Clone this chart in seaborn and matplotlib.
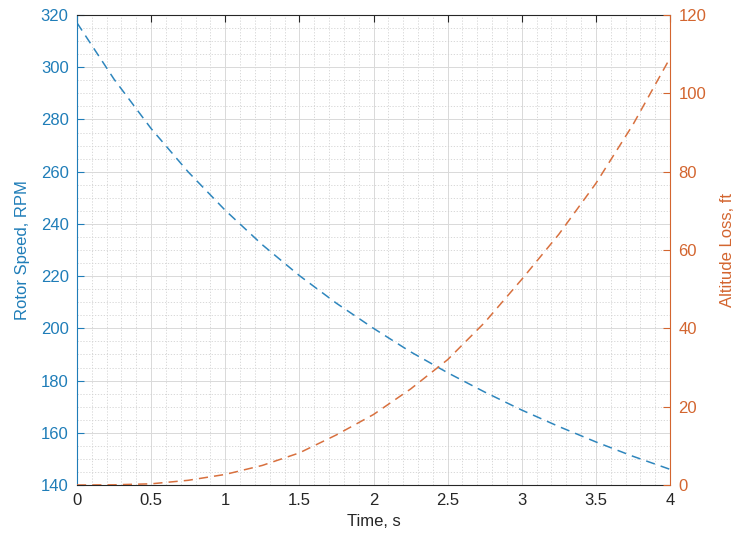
import numpy as np
import pandas as pd
import matplotlib
matplotlib.use("Agg")
import matplotlib.pyplot as plt
import seaborn as sns
from matplotlib.ticker import MultipleLocator

# Data
time_s = [0, 0.25, 0.5, 0.75, 1, 1.25, 1.5, 1.75, 2, 2.25, 2.5, 2.75, 3, 3.25, 3.5, 3.75, 4]
rotor_rpm = [317, 295.4, 276.5, 259.9, 245.2, 232.0, 220.2, 209.6, 200.0, 191.0,
             183.0, 175.6, 168.7, 162.4, 156.5, 151.0, 146.0]
alt_loss_ft = [0, 0.05, 0.3, 1.2, 2.7, 5.0, 8.2, 12.8, 18.0, 24.5,
               32.0, 41.5, 52.5, 64.0, 77.0, 92.0, 109.0]

x_ticks = [0, 0.5, 1, 1.5, 2, 2.5, 3, 3.5, 4]
x_tick_labels = ["0", "0.5", "1", "1.5", "2", "2.5", "3", "3.5", "4"]
left_ticks = [140, 160, 180, 200, 220, 240, 260, 280, 300, 320]
right_ticks = [0, 20, 40, 60, 80, 100, 120]

BLUE = "#1f7db8"
ORANGE = "#d3652f"
LINE_BLUE = "#2e86bd"
LINE_ORANGE = "#d8703e"
DARK = "#262626"

sns.set_theme(style="white")
plt.rcParams["font.family"] = ["Liberation Sans", "DejaVu Sans"]

df = pd.DataFrame({"t": time_s, "rpm": rotor_rpm, "alt": alt_loss_ft})

fig = plt.figure(figsize=(7.41, 5.44), dpi=100)
ax = fig.add_axes([77 / 741, 1 - 485 / 544, (670 - 77) / 741, (485 - 15) / 544])
ax2 = ax.twinx()

sns.lineplot(data=df, x="t", y="rpm", ax=ax, color=LINE_BLUE, linewidth=1.1,
             linestyle=(0, (6, 4)))
sns.lineplot(data=df, x="t", y="alt", ax=ax2, color=LINE_ORANGE, linewidth=1.1,
             linestyle=(0, (6, 4)))

ax.set_xlim(0, 4)
ax.set_ylim(140, 320)
ax2.set_ylim(0, 120)

ax.set_xticks(x_ticks)
ax.set_xticklabels(x_tick_labels)
ax.set_yticks(left_ticks)
ax2.set_yticks(right_ticks)
ax.xaxis.set_minor_locator(MultipleLocator(0.1))
ax.yaxis.set_minor_locator(MultipleLocator(5))

ax.grid(True, which="major", color="#d9d9d9", linewidth=0.7, linestyle="-")
ax.grid(True, which="minor", color="#d2d2d2", linewidth=0.6, linestyle=(0, (1.5, 2)))
ax.set_axisbelow(True)

ax.set_xlabel("Time, s", fontsize=12, color=DARK, labelpad=4)
ax.set_ylabel("Rotor Speed, RPM", fontsize=12, color=BLUE, labelpad=8)
ax2.set_ylabel("Altitude Loss, ft", fontsize=12, color=ORANGE, labelpad=10)

ax.tick_params(axis="x", which="major", direction="in", length=5, width=0.8,
               colors=DARK, labelsize=12, top=True, pad=6)
ax.tick_params(axis="x", which="minor", length=0, top=False, bottom=False)
ax.tick_params(axis="y", which="major", direction="in", length=5, width=0.8,
               colors=BLUE, labelsize=12, pad=6)
ax.tick_params(axis="y", which="minor", length=0)
ax2.tick_params(axis="y", which="major", direction="in", length=5, width=0.8,
                colors=ORANGE, labelsize=12, pad=6)

for side in ["top", "bottom"]:
    ax.spines[side].set_color(DARK)
    ax.spines[side].set_linewidth(0.8)
    ax2.spines[side].set_visible(False)
ax.spines["left"].set_color(BLUE)
ax.spines["left"].set_linewidth(0.8)
ax.spines["right"].set_visible(False)
ax2.spines["left"].set_visible(False)
ax2.spines["right"].set_color(ORANGE)
ax2.spines["right"].set_linewidth(0.8)

fig.savefig("out.png", dpi=100, facecolor="white")
